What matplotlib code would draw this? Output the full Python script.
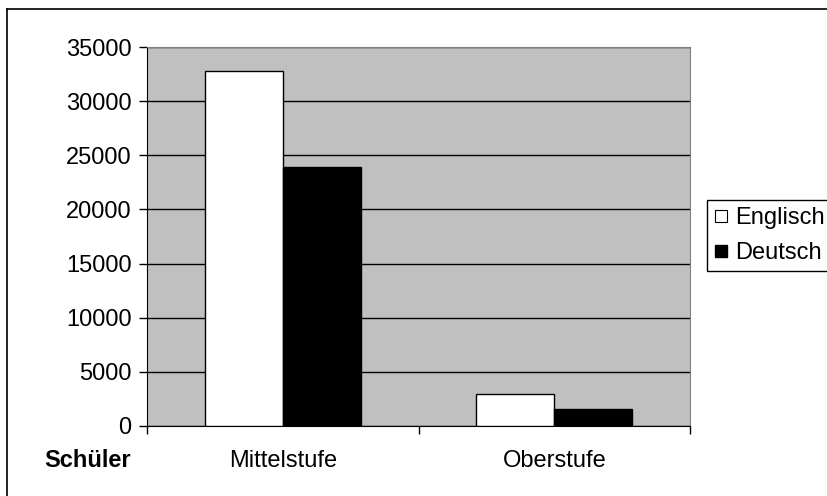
import matplotlib.pyplot as plt
import numpy as np
from matplotlib.lines import Line2D

plt.rcParams['font.family'] = ['Liberation Sans', 'DejaVu Sans']
plt.rcParams['font.size'] = 17

# Schülerzahlen nach Stufe und Sprache
stufen = ['Mittelstufe', 'Oberstufe']
englisch = [32800, 3000]
deutsch = [23900, 1550]
y_ticks = [0, 5000, 10000, 15000, 20000, 25000, 30000, 35000]

W, H = 827, 496
fig = plt.figure(figsize=(W / 100, H / 100), dpi=100)
ax = fig.add_axes([147 / W, 1 - 426 / H, 543 / W, 379 / H])
ax.set_facecolor('#c0c0c0')

x = np.arange(len(stufen))
bw = 0.288
ax.bar(x - bw / 2, englisch, bw, color='white', edgecolor='black', linewidth=1, zorder=3)
ax.bar(x + bw / 2, deutsch, bw, color='black', edgecolor='black', linewidth=1, zorder=3)

ax.set_xlim(-0.5, len(stufen) - 0.5)
ax.set_ylim(0, 35000)
ax.set_yticks(y_ticks)
ax.yaxis.grid(True, color='black', linewidth=1)
ax.set_axisbelow(True)

ax.set_xticks(x)
ax.set_xticklabels(stufen)
ax.set_xticks(np.arange(len(stufen) + 1) - 0.5, minor=True)
ax.tick_params(axis='x', which='major', length=0, pad=17)
ax.tick_params(axis='x', which='minor', length=6, width=1, color='black')
ax.tick_params(axis='y', length=6, width=1, pad=5)

for side in ['top', 'right']:
    ax.spines[side].set_color('#808080')
for side in ['left', 'bottom']:
    ax.spines[side].set_color('black')

fig.text(88 / W, 1 - 467 / H, 'Schüler', fontweight='bold', ha='center', va='baseline')

# Rahmen des Diagrammbereichs
fig.add_artist(Line2D([7 / W, 7 / W], [0, 1 - 9 / H], color='black', linewidth=1.2))
fig.add_artist(Line2D([7 / W, 1], [1 - 9 / H, 1 - 9 / H], color='black', linewidth=1.2))

handles = [
    Line2D([], [], marker='s', linestyle='none', markersize=8,
           markerfacecolor='white', markeredgecolor='black', markeredgewidth=0.8),
    Line2D([], [], marker='s', linestyle='none', markersize=8,
           markerfacecolor='black', markeredgecolor='black'),
]
leg = fig.legend(handles, ['Englisch', 'Deutsch'], loc='upper left',
                 bbox_to_anchor=(707 / W, 1 - 200 / H), frameon=True, fancybox=False,
                 edgecolor='black', framealpha=1, borderpad=0.3, handlelength=0.6,
                 handletextpad=0.3, labelspacing=0.55, borderaxespad=0)
leg.get_frame().set_linewidth(1)

fig.savefig('out.png', dpi=100)
